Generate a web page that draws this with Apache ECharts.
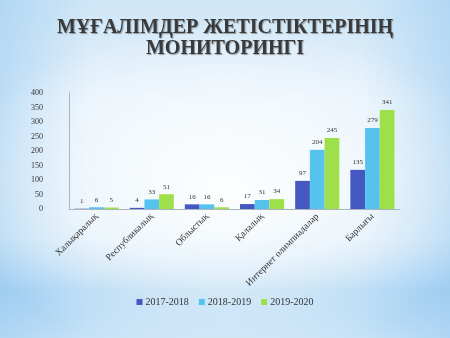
<!DOCTYPE html>
<html>
<head>
<meta charset="utf-8">
<script src="https://cdn.jsdelivr.net/npm/echarts@6/dist/echarts.min.js"></script>
<style>
  html, body { margin: 0; padding: 0; }
  #chart {
    width: 450px; height: 338px;
    background:
      radial-gradient(ellipse 60% 50% at 50% 56%, rgba(255,255,255,0.95) 0%, rgba(255,255,255,0.6) 50%, rgba(255,255,255,0) 100%),
      linear-gradient(90deg, rgba(150,200,240,0.5) 0%, rgba(150,200,240,0) 20%, rgba(150,200,240,0) 80%, rgba(150,200,240,0.5) 100%),
      linear-gradient(180deg, #cfe6f7 0%, #e4f1fb 30%, #d6eaf8 70%, #a9d3f2 86%, #c8e3f7 100%);
  }
</style>
</head>
<body>
<div id="chart"></div>
<script>
// Olympiad / competition results per level, three school years
const categories = ['Халықаралық', 'Республикалық', 'Облыстық', 'Қалалық', 'Интернет олимпиадалар', 'Барлығы'];
const seriesNames = ['2017-2018', '2018-2019', '2019-2020'];
const values2017 = [1, 4, 16, 17, 97, 135];
const values2018 = [6, 33, 16, 31, 204, 279];
const values2019 = [5, 51, 6, 34, 245, 341];
const colors = ['#4557c0', '#56c3ee', '#9de04a'];

const serif = '"Liberation Serif", "DejaVu Serif", serif';

const chart = echarts.init(document.getElementById('chart'), null, { renderer: 'canvas' });

const makeSeries = (name, data, color) => ({
  name: name,
  type: 'bar',
  data: data,
  barGap: '0%',
  barCategoryGap: '20%',
  itemStyle: { color: color },
  label: {
    show: true,
    position: 'top',
    distance: 4,
    fontFamily: serif,
    fontSize: 7,
    color: '#333'
  }
});

chart.setOption({
  backgroundColor: 'transparent',
  animation: false,
  title: {
    text: 'МҰҒАЛІМДЕР ЖЕТІСТІКТЕРІНІҢ\nМОНИТОРИНГІ',
    left: 'center',
    top: 12,
    textStyle: {
      fontFamily: serif,
      fontWeight: 'bold',
      fontSize: 20,
      lineHeight: 21,
      color: '#3a3a3a',
      textShadowColor: 'rgba(0,0,0,0.35)',
      textShadowBlur: 1,
      textShadowOffsetX: 1,
      textShadowOffsetY: 1
    }
  },
  legend: {
    data: seriesNames,
    bottom: 26,
    left: 'center',
    itemWidth: 6,
    itemHeight: 6,
    itemGap: 10,
    icon: 'rect',
    textStyle: { fontFamily: serif, fontSize: 10, color: '#333', padding: [0, 0, 0, -2] }
  },
  grid: { left: 69, right: 50, top: 93, bottom: 129, containLabel: false },
  xAxis: {
    type: 'category',
    data: categories,
    axisLine: { lineStyle: { color: '#aab4bd' } },
    axisTick: { show: false },
    axisLabel: {
      rotate: 45,
      interval: 0,
      margin: 6,
      fontFamily: serif,
      fontSize: 9.5,
      color: '#333'
    }
  },
  yAxis: {
    type: 'value',
    min: 0,
    max: 400,
    interval: 50,
    splitLine: { show: false },
    axisLine: { show: true, lineStyle: { color: '#aab4bd' } },
    axisTick: { show: false },
    axisLabel: { fontFamily: serif, fontSize: 8, color: '#333', margin: 26 }
  },
  series: [
    makeSeries(seriesNames[0], values2017, colors[0]),
    makeSeries(seriesNames[1], values2018, colors[1]),
    makeSeries(seriesNames[2], values2019, colors[2])
  ]
});
</script>
</body>
</html>
